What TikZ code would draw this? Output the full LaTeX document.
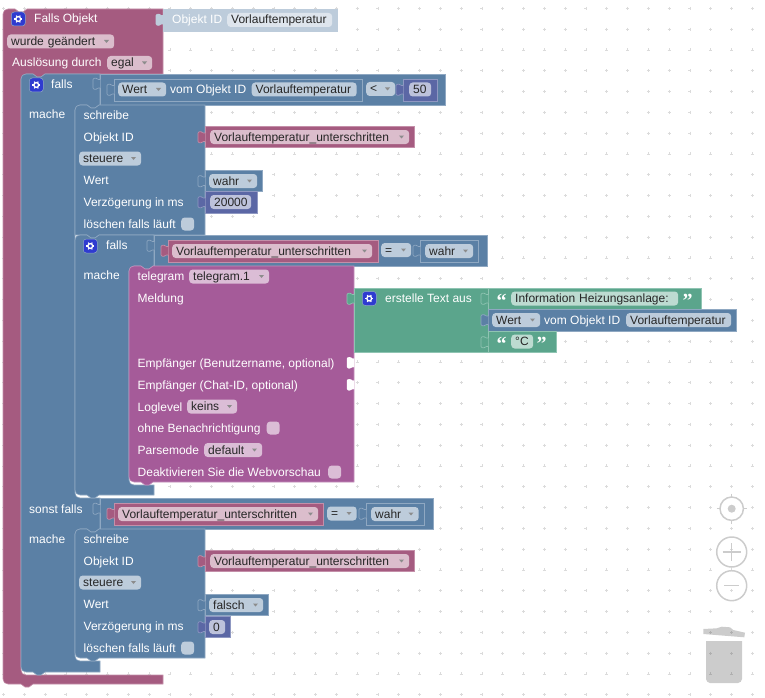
\documentclass[tikz,border=0pt]{standalone}
\usepackage{fontspec}
\setmainfont{Liberation Sans}
\newfontfamily\quotefont{Liberation Serif}
\definecolor{blockcrimson}{HTML}{A55B80}
\definecolor{edgecrimson}{HTML}{C48FA9}
\definecolor{fieldcrimson}{HTML}{DBBDCC}
\definecolor{blockblue}{HTML}{5B80A5}
\definecolor{edgeblue}{HTML}{8FA8C2}
\definecolor{fieldblue}{HTML}{BDCCDB}
\definecolor{blockindigo}{HTML}{5B67A5}
\definecolor{edgeindigo}{HTML}{8F98C2}
\definecolor{fieldindigo}{HTML}{BDC2DB}
\definecolor{blockgreen}{HTML}{5BA58C}
\definecolor{edgegreen}{HTML}{8FC4B2}
\definecolor{fieldgreen}{HTML}{BDDBD1}
\definecolor{blockpurple}{HTML}{A55B99}
\definecolor{edgepurple}{HTML}{C48FBB}
\definecolor{fieldpurple}{HTML}{DBBDD6}
\definecolor{fieldshadow}{HTML}{DEE5ED}
\definecolor{gearblue}{HTML}{2F3BD0}
\definecolor{toolgray}{HTML}{CCCCCC}
\tikzset{
crimsonblock/.style={fill=blockcrimson, draw=edgecrimson, line width=0.6},
blueblock/.style={fill=blockblue, draw=edgeblue, line width=0.6},
indigoblock/.style={fill=blockindigo, draw=edgeindigo, line width=0.6},
greenblock/.style={fill=blockgreen, draw=edgegreen, line width=0.6},
purpleblock/.style={fill=blockpurple, draw=edgepurple, line width=0.6},
shadowblock/.style={fill=fieldblue, draw=fieldblue, line width=0.6},
hole/.style={fill=white, draw=white, line width=0.2},
lbl/.style={anchor=west, inner sep=0, text=white, font=\fontsize{12}{14}\selectfont, text height=9.6, text depth=1.6},
fieldbox/.style={anchor=west, inner ysep=0, inner xsep=4, rounded corners=3.5, minimum height=14, text=black!85, font=\fontsize{12}{14}\selectfont, text height=9.6, text depth=1.6, align=left},
checkbox/.style={anchor=west, inner sep=0, rounded corners=3.5, minimum size=13},
quotemark/.style={inner sep=0, text=white, font=\quotefont\bfseries\fontsize{20}{20}\selectfont},
griddot/.style={draw=black!14, line width=0.5},
tool/.style={draw=toolgray, line width=1.5, fill=none},
}
\newcommand{\dentR}{-- ++(4,3) -- ++(4,0) -- ++(4,-3)}
\newcommand{\dentL}{-- ++(-4,3) -- ++(-4,0) -- ++(-4,-3)}
\newcommand{\tabshape}[3]{\draw[#1, rounded corners=1] (#2+0.4,#3+1.5) -- (#2-2.5,#3+1.5) -- (#2-3.5,#3) -- (#2-7,#3+0.5) -- (#2-7,#3+11) -- (#2-3.5,#3+11.5) -- (#2-2.5,#3+10) -- (#2+0.4,#3+10);}
\newcommand{\dropfield}[6]{\node[fieldbox, fill=#5, minimum width=#4, text width=#4-8] (#1) at (#2,#3) {#6};
\fill[black!45] (#2+#4-10,#3-1.5) -- ++(5,0) -- ++(-2.5,3) -- cycle;}
\newcommand{\textfield}[6]{\node[fieldbox, fill=#5, minimum width=#4, text width=#4-8] (#1) at (#2,#3) {#6};}
\newcommand{\gearicon}[3]{\node[anchor=west, inner sep=0, rounded corners=3, minimum size=14, fill=gearblue, draw=edgeblue, line width=0.5] (#1) at (#2,#3) {};
\draw[white, line width=1.3] (#1) circle (2.4);
\foreach \a in {0,60,...,300} {\draw[white, line width=1.1] (#1) ++(\a:2.6) -- ++(\a:1.4);}
}
\begin{document}
\begin{tikzpicture}[x=1pt, y=-1pt]
\useasboundingbox (0,0) rectangle (765,698);
% dots of the workspace
\foreach \i in {0,...,36} {
\foreach \j in {0,...,33} {
\draw[griddot] ({3.5+20.8*\i},{8.3+20.8*\j}) +(-1.5,0) -- +(1.5,0) +(0,-1.5) -- +(0,1.5);
}}
% trigger
\draw[crimsonblock] (3,14) .. controls (3,11) and (5,9) .. (8,9) -- (15,9) \dentR -- (163,9) -- (163,74) -- (45,74) \dentL -- (26,74) .. controls (23,74) and (21,76) .. (21,79)
-- (21,670) .. controls (21,673) and (23,675) .. (26,675) -- (163,675) -- (163,684) -- (33,684) \dentL -- (8,684) .. controls (5,684) and (3,682) .. (3,679) -- cycle;
\gearicon{gearTrigger}{11}{19}
\node[lbl] (fallsObjekt) at (34,19) {Falls Objekt};
\dropfield{wurde}{7}{41.5}{107}{fieldcrimson}{wurde geändert}
\node[lbl] (ausloesung) at (12,63) {Auslösung durch};
\dropfield{egal}{107}{63}{45}{fieldcrimson}{egal}
\draw[shadowblock] (163,9) rectangle (337,31);
\tabshape{shadowblock}{163}{14}
\node[lbl] (objektTrigger) at (172,19.5) {Objekt ID};
\textfield{idTrigger}{227}{20}{105}{fieldshadow}{Vorlauftemperatur}
% outer if
\draw[blueblock] (21,79) .. controls (21,76) and (23,74) .. (26,74) -- (33,74) \dentR -- (100,74) -- (100,105) -- (99,105) \dentL -- (80,105) .. controls (77,105) and (75,107) .. (75,110)
-- (75,493) .. controls (75,496) and (77,498) .. (80,498) -- (100,498) -- (100,529) -- (99,529) \dentL -- (80,529) .. controls (77,529) and (75,531) .. (75,534)
-- (75,656) .. controls (75,659) and (77,661) .. (80,661) -- (100,661) -- (100,672) -- (45,672) \dentL -- (26,672) .. controls (23,672) and (21,670) .. (21,667) -- cycle;
\gearicon{gearIf}{29}{85}
\node[lbl] (falls) at (51,85) {falls};
\node[lbl] (mache) at (29,115) {mache};
\node[lbl] (sonstFalls) at (29,509) {sonst falls};
\node[lbl] (macheSonst) at (29,539) {mache};
% first compare
\draw[blueblock] (100,74) rectangle (445,105);
\tabshape{blueblock}{100}{78}
\draw[blueblock] (114,79) rectangle (362,101);
\tabshape{blueblock}{114}{84}
\dropfield{wert}{118}{89.5}{48}{fieldblue}{Wert}
\node[lbl] (vomObjekt) at (170,89.5) {vom Objekt ID};
\textfield{idCompare}{251.5}{89.5}{105}{fieldblue}{Vorlauftemperatur}
\dropfield{lessThan}{366}{89}{29}{fieldblue}{<}
\draw[indigoblock] (403,79) rectangle (437,101);
\tabshape{indigoblock}{403}{84}
\textfield{limit}{409}{89.5}{22}{fieldindigo}{50}
% first schreibe
\draw[blueblock] (75,110) .. controls (75,107) and (77,105) .. (80,105) -- (87,105) \dentR -- (205,105) -- (205,235) -- (99,235) \dentL -- (75,235) -- cycle;
\node[lbl] (schreibe) at (83.5,115.5) {schreibe};
\node[lbl] (objektId) at (83.5,137.5) {Objekt ID};
\dropfield{steuere}{79}{158.5}{62}{fieldblue}{steuere}
\node[lbl] (wertLabel) at (83.5,180.5) {Wert};
\node[lbl] (delay) at (83.5,202.5) {Verzögerung in ms};
\node[lbl] (loeschen) at (83.5,224) {löschen falls läuft};
\node[checkbox, fill=fieldblue] (loeschenBox) at (181,224) {};
\draw[crimsonblock] (205,126) rectangle (414,147);
\tabshape{crimsonblock}{205}{131.5}
\dropfield{stateId}{210}{137}{199}{fieldcrimson}{Vorlauftemperatur\_unterschritten}
\draw[blueblock] (205,170) rectangle (262,191);
\tabshape{blueblock}{205}{175.5}
\dropfield{wahrValue}{209}{181}{48}{fieldblue}{wahr}
\draw[indigoblock] (205,191) rectangle (257,213);
\tabshape{indigoblock}{205}{196.5}
\textfield{delayValue}{210}{202}{41}{fieldindigo}{20000}
% inner if
\draw[blueblock] (75,240) .. controls (75,237) and (77,235) .. (80,235) -- (87,235) \dentR -- (154,235) -- (154,266) -- (153,266) \dentL -- (134,266) .. controls (131,266) and (129,268) .. (129,271)
-- (129,480) .. controls (129,483) and (131,485) .. (134,485) -- (154,485) -- (154,495) -- (99,495) \dentL -- (80,495) .. controls (77,495) and (75,493) .. (75,490) -- cycle;
\gearicon{gearInner}{83}{246}
\node[lbl] (fallsInner) at (106,245.5) {falls};
\node[lbl] (macheInner) at (83.5,275.5) {mache};
\draw[blueblock] (154,235) rectangle (487,266);
\tabshape{blueblock}{154}{240}
\draw[crimsonblock] (168,240) rectangle (378,262);
\tabshape{crimsonblock}{168}{245}
\dropfield{stateCompare}{172}{251}{200}{fieldcrimson}{Vorlauftemperatur\_unterschritten}
\dropfield{equalsOne}{381}{250}{30}{fieldblue}{=}
\draw[blueblock] (420,240) rectangle (478,262);
\tabshape{blueblock}{420}{245}
\dropfield{wahrOne}{425}{251}{48}{fieldblue}{wahr}
% telegram
\draw[purpleblock] (129,271) .. controls (129,268) and (131,266) .. (134,266) -- (141,266) \dentR -- (354,266) -- (354,482) -- (153,482) \dentL -- (134,482) .. controls (131,482) and (129,480) .. (129,477) -- cycle;
\node[lbl] (telegram) at (137.5,276.5) {telegram};
\dropfield{telegramOne}{189}{276.5}{80}{fieldpurple}{telegram.1}
\node[lbl] (meldung) at (137.5,298) {Meldung};
\node[lbl] (empfaengerName) at (137.5,363) {Empfänger (Benutzername, optional)};
\node[lbl] (empfaengerChat) at (137.5,385) {Empfänger (Chat-ID, optional)};
\node[lbl] (loglevel) at (137.5,407) {Loglevel};
\dropfield{keins}{187}{406.5}{50}{fieldpurple}{keins}
\node[lbl] (ohne) at (137.5,428.5) {ohne Benachrichtigung};
\node[checkbox, fill=fieldpurple] (ohneBox) at (266.5,428) {};
\node[lbl] (parsemode) at (137.5,450) {Parsemode};
\dropfield{default}{204}{450}{58}{fieldpurple}{default}
\node[lbl] (webvorschau) at (137.5,472) {Deaktivieren Sie die Webvorschau};
\node[checkbox, fill=fieldpurple] (webBox) at (328,472) {};
\tabshape{hole}{354}{357}
\tabshape{hole}{354}{379}
% text
\draw[greenblock] (354,288) rectangle (488,352);
\tabshape{greenblock}{354}{293}
\gearicon{gearText}{362}{298.5}
\node[lbl] (erstelle) at (385,298) {erstelle Text aus};
\draw[greenblock] (488,288) rectangle (701,309);
\tabshape{greenblock}{488}{293}
\node[quotemark] (openOne) at (501.5,301) {“};
\textfield{infoText}{511}{298.5}{167}{fieldgreen}{Information Heizungsanlage:}
\node[quotemark] (closeOne) at (687.5,301) {”};
\draw[blueblock] (488,309) rectangle (736,331);
\tabshape{blueblock}{488}{314.5}
\dropfield{wertText}{492}{320}{48}{fieldblue}{Wert}
\node[lbl] (vomText) at (544,320) {vom Objekt ID};
\textfield{idText}{626}{320}{105}{fieldblue}{Vorlauftemperatur}
\draw[greenblock] (488,331) rectangle (556,352);
\tabshape{greenblock}{488}{336.5}
\node[quotemark] (openTwo) at (501.5,344) {“};
\textfield{unitText}{511}{341.5}{22}{fieldgreen}{°C}
\node[quotemark] (closeTwo) at (541.5,344) {”};
% second compare
\draw[blueblock] (100,498) rectangle (433,529);
\tabshape{blueblock}{100}{503}
\draw[crimsonblock] (114,503) rectangle (323,525);
\tabshape{crimsonblock}{114}{508}
\dropfield{stateElse}{118}{514}{200}{fieldcrimson}{Vorlauftemperatur\_unterschritten}
\dropfield{equalsTwo}{327}{513.5}{29.5}{fieldblue}{=}
\draw[blueblock] (366,503) rectangle (424,525);
\tabshape{blueblock}{366}{508}
\dropfield{wahrTwo}{371}{514}{47.5}{fieldblue}{wahr}
% second schreibe
\draw[blueblock] (75,534) .. controls (75,531) and (77,529) .. (80,529) -- (87,529) \dentR -- (205,529) -- (205,658) -- (99,658) \dentL -- (80,658) .. controls (77,658) and (75,656) .. (75,653) -- cycle;
\node[lbl] (schreibeElse) at (83.5,539.5) {schreibe};
\node[lbl] (objektElse) at (83.5,561.5) {Objekt ID};
\dropfield{steuereElse}{79}{582.5}{62}{fieldblue}{steuere}
\node[lbl] (wertElse) at (83.5,604.5) {Wert};
\node[lbl] (delayElse) at (83.5,626.5) {Verzögerung in ms};
\node[lbl] (loeschenElse) at (83.5,648) {löschen falls läuft};
\node[checkbox, fill=fieldblue] (loeschenElseBox) at (181,648) {};
\draw[crimsonblock] (205,550) rectangle (414,571);
\tabshape{crimsonblock}{205}{555.5}
\dropfield{stateIdElse}{210}{561}{199}{fieldcrimson}{Vorlauftemperatur\_unterschritten}
\draw[blueblock] (205,594) rectangle (268,615);
\tabshape{blueblock}{205}{599.5}
\dropfield{falschValue}{209}{605}{54}{fieldblue}{falsch}
\draw[indigoblock] (205,616) rectangle (230,637);
\tabshape{indigoblock}{205}{621.5}
\textfield{delayElseValue}{209}{627}{16}{fieldindigo}{0}
% controls
\draw[tool] (731.7,508.7) circle (11.7);
\fill[toolgray] (731.7,508.7) circle (4);
\draw[tool] (731.7,493.7) -- (731.7,497) (731.7,520.4) -- (731.7,523.7) (716.7,508.7) -- (720,508.7) (743.4,508.7) -- (746.7,508.7);
\draw[tool] (731.7,552) circle (15);
\draw[tool] (722.7,552) -- (740.7,552) (731.7,543) -- (731.7,561);
\draw[tool] (731.7,585.7) circle (15);
\draw[tool] (724,585.7) -- (739.4,585.7);
\fill[black, opacity=0.2] (703.3,629) -- (716.7,628.3) -- (721.7,626.7) -- (730,627.3) -- (733.3,630) -- (745,632.7) -- (744.3,637.3) -- (703.3,634) -- cycle;
\fill[black, opacity=0.2] (706,641) -- (742,641) -- (742,679) .. controls (742,681) and (740,683) .. (738,683) -- (710,683) .. controls (708,683) and (706,681) .. (706,679) -- cycle;
\end{tikzpicture}
\end{document}
